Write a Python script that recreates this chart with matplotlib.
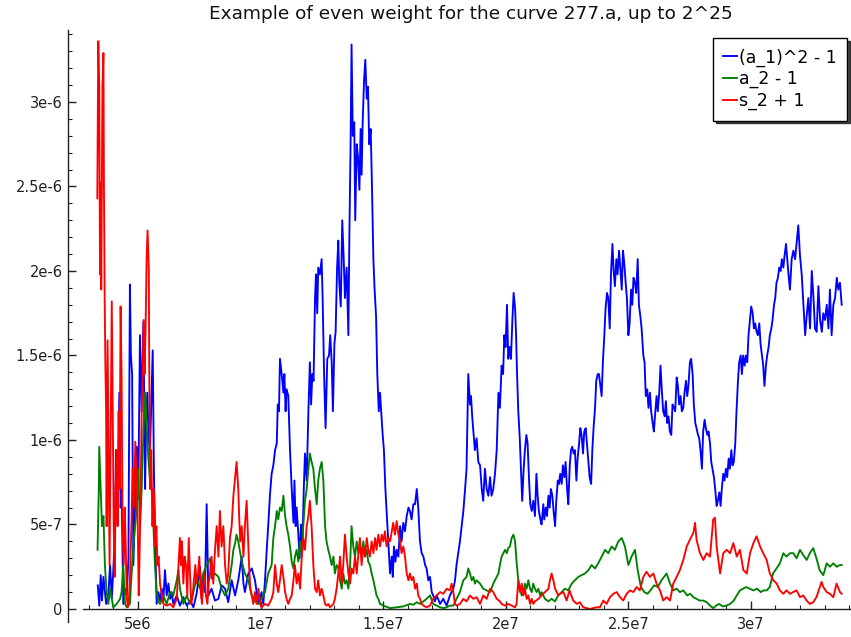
import numpy as np
import matplotlib
matplotlib.use("Agg")
import matplotlib.pyplot as plt
from matplotlib.ticker import FixedLocator, FixedFormatter, MultipleLocator

X_UNIT = 1e6   # x values below are in millions
Y_UNIT = 1e-7  # y values below are in units of 1e-7

title = "Example of even weight for the curve 277.a, up to 2^25"
labels = ["(a_1)^2 - 1", "a_2 - 1", "s_2 + 1"]
colors = ["#0000ff", "#008000", "#ff0000"]
xticks = [5e6, 1e7, 1.5e7, 2e7, 2.5e7, 3e7]
xticklabels = ["5e6", "1e7", "1.5e7", "2e7", "2.5e7", "3e7"]
yticks = [0, 5e-7, 1e-6, 1.5e-6, 2e-6, 2.5e-6, 3e-6]
yticklabels = ["0", "5e-7", "1e-6", "1.5e-6", "2e-6", "2.5e-6", "3e-6"]

blue_x = [
    3.36,3.42,3.48,3.53,3.59,3.70,3.79,3.86,3.93,3.99,
    4.06,4.10,4.16,4.24,4.29,4.33,4.40,4.47,4.54,4.61,
    4.67,4.71,4.76,4.81,4.88,4.95,5.01,5.08,5.15,5.22,
    5.29,5.33,5.38,5.44,5.49,5.54,5.60,5.65,5.69,5.76,
    5.83,5.90,5.97,6.03,6.10,6.17,6.24,6.31,6.37,6.44,
    6.58,6.71,6.85,6.99,7.12,7.26,7.39,7.53,7.60,7.66,
    7.73,7.80,7.87,8.00,8.14,8.28,8.41,8.55,8.68,8.82,
    8.96,9.09,9.23,9.30,9.36,9.50,9.64,9.77,9.91,10.04,
    10.11,10.18,10.25,10.31,10.38,10.45,10.52,10.59,10.66,10.70,
    10.75,10.79,10.86,10.93,10.97,11.02,11.06,11.13,11.20,11.27,
    11.34,11.38,11.43,11.47,11.54,11.59,11.65,11.70,11.76,11.81,
    11.88,11.95,12.01,12.06,12.11,12.16,12.22,12.26,12.31,12.35,
    12.42,12.49,12.53,12.59,12.65,12.72,12.79,12.84,12.90,12.95,
    13.01,13.06,13.12,13.17,13.21,13.27,13.33,13.39,13.44,13.51,
    13.58,13.62,13.67,13.71,13.76,13.82,13.86,13.92,13.97,14.03,
    14.08,14.12,14.16,14.22,14.27,14.33,14.38,14.43,14.49,14.54,
    14.60,14.65,14.71,14.76,14.82,14.87,14.92,14.98,15.03,15.09,
    15.14,15.21,15.28,15.35,15.39,15.44,15.50,15.55,15.62,15.69,
    15.75,15.82,15.89,15.96,16.03,16.09,16.16,16.23,16.30,16.37,
    16.43,16.50,16.57,16.64,16.71,16.77,16.84,16.91,16.98,17.04,
    17.11,17.18,17.32,17.45,17.59,17.72,17.86,17.93,17.99,18.06,
    18.13,18.20,18.27,18.34,18.40,18.47,18.54,18.58,18.64,18.68,
    18.74,18.81,18.88,18.95,19.02,19.08,19.15,19.22,19.29,19.36,
    19.42,19.49,19.56,19.63,19.70,19.76,19.83,19.89,19.94,19.99,
    20.05,20.10,20.16,20.21,20.27,20.32,20.38,20.42,20.46,20.51,
    20.57,20.62,20.67,20.73,20.78,20.84,20.89,20.95,21.00,21.06,
    21.12,21.19,21.25,21.30,21.35,21.41,21.46,21.53,21.57,21.63,
    21.68,21.74,21.79,21.84,21.90,21.95,22.01,22.06,22.12,22.17,
    22.22,22.28,22.33,22.39,22.44,22.50,22.55,22.61,22.66,22.71,
    22.77,22.82,22.88,22.93,22.99,23.04,23.09,23.15,23.20,23.26,
    23.31,23.37,23.42,23.48,23.53,23.58,23.64,23.69,23.75,23.80,
    23.86,23.91,23.96,24.02,24.07,24.13,24.18,24.24,24.29,24.35,
    24.40,24.45,24.51,24.56,24.62,24.67,24.73,24.78,24.83,24.89,
    24.94,25.00,25.05,25.11,25.16,25.21,25.27,25.32,25.38,25.43,
    25.49,25.54,25.61,25.66,25.71,25.77,25.82,25.88,25.93,25.99,
    26.04,26.10,26.15,26.20,26.26,26.31,26.37,26.42,26.48,26.53,
    26.58,26.64,26.69,26.75,26.80,26.86,26.91,26.97,27.02,27.07,
    27.13,27.18,27.24,27.29,27.35,27.40,27.45,27.51,27.56,27.62,
    27.67,27.73,27.78,27.84,27.89,27.94,28.00,28.05,28.11,28.16,
    28.22,28.27,28.33,28.38,28.43,28.49,28.54,28.60,28.65,28.71,
    28.76,28.81,28.87,28.92,28.98,29.03,29.09,29.14,29.20,29.25,
    29.30,29.36,29.41,29.47,29.52,29.58,29.63,29.68,29.74,29.79,
    29.85,29.90,29.96,30.01,30.07,30.12,30.17,30.23,30.28,30.34,
    30.39,30.45,30.50,30.55,30.61,30.66,30.72,30.77,30.83,30.88,
    30.94,30.99,31.04,31.10,31.15,31.21,31.26,31.32,31.37,31.43,
    31.48,31.53,31.59,31.66,31.73,31.80,31.87,31.93,32.00,32.07,
    32.14,32.21,32.27,32.34,32.41,32.48,32.55,32.61,32.68,32.75,
    32.82,32.89,32.95,33.02,33.09,33.16,33.22,33.29,33.36,33.43,
    33.50,33.56,33.63,33.70,
]
blue_y = [
    1.4,0.2,2.0,0.5,1.9,0.3,0.8,2.6,0.6,2.2,
    4.5,9.4,5.0,12.8,6.0,7.1,0.3,1.2,0.8,3.0,
    19.2,15.0,13.9,2.6,6.0,9.6,6.5,16.2,11.7,17.0,
    7.1,11.0,12.8,10.0,9.4,12.0,15.3,8.0,4.9,0.3,
    1.0,0.5,1.2,0.4,2.3,0.8,1.5,0.6,1.0,0.3,
    0.8,0.2,0.7,0.2,0.5,0.1,0.9,2.5,0.6,2.0,
    1.0,6.2,0.8,1.2,0.5,0.6,1.4,1.2,0.4,1.7,
    0.8,1.7,3.1,1.5,1.0,2.1,2.4,1.7,0.3,1.0,
    0.3,1.7,3.5,4.9,6.7,8.0,8.5,9.4,9.8,12.1,
    11.7,14.8,13.9,12.8,13.9,11.7,13.0,12.6,9.4,7.1,
    5.1,7.6,4.9,6.0,4.4,3.0,5.0,3.5,7.0,9.2,
    7.6,11.7,14.6,12.1,13.9,13.5,18.4,19.8,17.5,20.2,
    19.8,20.7,18.4,13.9,10.7,14.8,15.0,16.2,14.6,11.7,
    15.7,16.4,20.2,21.8,19.3,17.9,23.0,20.7,18.4,20.2,
    16.2,22.0,27.5,33.4,28.0,28.8,23.0,27.5,26.8,24.8,
    28.4,25.7,28.6,31.3,32.5,30.2,30.9,27.5,28.4,25.2,
    20.7,18.9,17.3,13.9,11.7,12.8,11.7,10.3,9.4,7.1,
    5.8,4.0,2.1,3.1,1.9,3.7,2.8,3.5,3.1,4.9,
    4.0,5.1,4.6,5.5,6.0,5.8,5.3,6.2,6.2,7.1,
    6.0,4.0,3.3,3.1,2.6,2.4,1.7,1.9,1.0,0.8,
    0.45,0.8,0.3,0.6,0.2,0.8,1.2,1.7,2.6,3.3,
    4.0,4.9,5.8,7.1,8.3,13.9,12.1,12.6,11.2,10.5,
    9.4,10.1,8.7,8.5,7.1,6.4,8.3,7.1,6.7,7.8,
    6.7,7.1,8.0,9.4,12.8,11.9,14.4,13.9,16.2,15.5,
    18.0,14.8,15.5,14.8,17.1,18.7,17.8,16.2,13.9,11.7,
    10.1,8.3,6.4,8.3,9.4,10.3,9.8,7.6,6.2,5.8,
    6.4,5.5,8.0,6.7,5.8,5.3,5.0,6.2,5.3,6.0,
    5.5,6.7,6.0,7.1,6.7,5.8,4.9,6.4,7.6,7.4,
    8.0,7.4,8.5,7.8,8.7,7.1,6.2,8.5,9.4,9.6,
    9.2,9.4,7.6,8.9,9.8,10.7,10.3,9.2,10.5,10.7,
    9.8,8.7,7.8,7.4,9.4,10.7,11.9,13.5,13.9,13.9,
    13.2,12.6,14.6,16.2,17.8,18.7,18.4,16.6,19.8,21.6,
    20.0,19.1,20.7,19.8,21.2,20.2,18.9,21.2,20.5,19.3,
    18.4,16.2,16.9,18.9,18.0,19.6,19.3,18.7,20.7,18.0,
    17.3,16.6,15.0,14.6,12.6,13.0,11.9,12.8,11.7,11.0,
    10.5,11.7,12.6,11.7,12.8,14.4,12.8,11.7,11.4,12.3,
    11.0,11.4,10.5,10.3,12.1,11.9,11.7,13.7,13.2,12.1,
    12.6,11.7,11.9,12.8,13.5,12.6,13.2,14.6,14.8,13.9,
    12.1,11.0,10.7,10.3,10.1,9.4,8.3,10.5,11.2,10.7,
    10.3,10.5,9.8,8.7,8.3,7.8,7.1,6.1,6.4,6.9,
    6.1,7.1,8.0,7.6,8.3,7.8,8.9,8.3,9.4,8.5,
    8.7,9.8,11.7,13.5,14.6,15.0,13.9,15.0,14.4,15.0,
    14.6,16.2,17.1,17.9,17.5,16.6,16.9,16.4,16.2,16.9,
    15.7,15.0,14.4,13.2,14.4,15.0,15.5,16.2,16.6,17.1,
    18.0,18.4,19.3,19.6,20.2,20.0,20.7,20.2,20.9,21.6,
    20.7,19.8,18.9,20.7,21.2,20.7,21.8,22.7,20.9,19.8,
    18.0,16.2,17.3,18.4,16.6,20.0,18.4,16.6,16.4,19.1,
    17.1,16.4,17.5,17.1,18.0,16.6,18.9,16.2,18.0,18.4,
    19.6,18.9,19.3,18.0,
]

green_x = [
    3.35,3.40,3.42,3.48,3.53,3.59,3.65,3.72,3.79,3.86,
    3.93,3.99,4.13,4.27,4.33,4.40,4.47,4.54,4.67,4.74,
    4.81,4.88,4.95,5.01,5.08,5.15,5.22,5.29,5.35,5.42,
    5.49,5.56,5.63,5.69,5.76,5.83,5.90,6.03,6.17,6.31,
    6.44,6.58,6.65,6.71,6.85,6.99,7.12,7.26,7.39,7.53,
    7.66,7.80,7.94,8.00,8.14,8.28,8.41,8.55,8.68,8.82,
    8.89,8.96,9.02,9.09,9.23,9.36,9.50,9.64,9.77,9.91,
    10.04,10.18,10.31,10.45,10.52,10.59,10.66,10.72,10.79,10.86,
    10.93,11.00,11.06,11.13,11.20,11.27,11.34,11.40,11.47,11.54,
    11.61,11.68,11.74,11.81,11.88,11.95,12.01,12.08,12.15,12.22,
    12.29,12.35,12.42,12.49,12.56,12.63,12.69,12.76,12.83,12.90,
    12.97,13.03,13.10,13.17,13.24,13.31,13.37,13.44,13.51,13.58,
    13.65,13.71,13.78,13.85,13.92,13.99,14.05,14.12,14.19,14.26,
    14.33,14.39,14.46,14.53,14.60,14.67,14.73,14.80,14.87,15.01,
    15.28,15.55,15.82,16.09,16.23,16.37,16.50,16.64,16.77,16.91,
    17.04,17.18,17.32,17.45,17.59,17.72,17.86,17.99,18.13,18.27,
    18.40,18.47,18.54,18.61,18.68,18.74,18.81,18.95,19.08,19.22,
    19.36,19.49,19.63,19.70,19.76,19.83,19.90,19.97,20.04,20.10,
    20.17,20.24,20.31,20.38,20.44,20.51,20.58,20.65,20.72,20.78,
    20.85,20.92,20.99,21.06,21.12,21.19,21.26,21.33,21.40,21.46,
    21.53,21.60,21.74,21.87,22.01,22.14,22.28,22.41,22.55,22.69,
    22.82,22.96,23.09,23.23,23.37,23.50,23.64,23.77,23.91,24.05,
    24.18,24.32,24.45,24.59,24.73,24.86,25.00,25.13,25.27,25.38,
    25.51,25.65,25.78,25.90,26.05,26.20,26.35,26.56,26.70,26.83,
    26.97,27.10,27.24,27.40,27.52,27.65,27.78,27.90,28.05,28.20,
    28.33,28.46,28.58,28.70,28.85,29.00,29.15,29.30,29.42,29.55,
    29.68,29.80,29.95,30.10,30.25,30.40,30.52,30.64,30.77,30.90,
    31.04,31.18,31.32,31.45,31.59,31.73,31.86,32.00,32.13,32.27,
    32.40,32.54,32.67,32.80,32.95,33.09,33.22,33.36,33.49,33.63,
    33.70,
]
green_y = [
    3.5,7.0,9.6,7.1,4.9,5.5,2.6,1.0,0.3,1.2,
    0.6,0.1,0.3,0.6,1.0,2.6,0.3,0.1,0.3,2.1,
    3.7,4.9,6.0,8.3,4.9,7.1,10.5,12.8,11.0,9.0,
    7.5,7.1,4.9,2.6,1.0,0.45,0.3,0.8,0.3,1.0,
    0.8,1.7,2.3,1.2,0.3,0.8,0.3,1.0,1.9,1.2,
    2.1,2.6,3.0,1.8,2.1,1.9,1.2,0.8,1.2,2.6,
    3.5,3.9,4.4,4.0,2.8,2.1,1.7,0.8,0.45,0.3,
    0.6,1.0,2.1,2.6,4.2,4.9,5.8,5.3,6.0,5.8,
    6.7,5.5,4.9,4.4,3.7,2.8,2.4,3.1,3.5,2.8,
    4.0,3.1,4.9,6.4,7.1,8.3,9.2,8.7,8.3,7.1,
    6.2,7.6,8.3,8.7,7.6,4.9,4.0,3.5,3.1,2.6,
    3.1,2.1,2.6,2.4,1.7,1.2,2.1,1.5,1.7,1.2,
    2.6,4.9,3.7,3.1,4.0,3.3,3.7,3.3,4.0,3.1,
    3.5,2.8,2.6,2.1,1.7,1.2,0.8,0.6,0.3,0.2,
    0.05,0.1,0.15,0.3,0.25,0.4,0.3,0.45,0.6,0.8,
    0.3,0.2,0.1,0.05,0.1,0.2,0.2,0.6,1.0,1.7,
    1.9,2.4,2.1,1.7,1.9,1.5,1.7,1.5,1.2,1.1,
    1.0,1.5,1.9,2.1,2.6,3.1,3.3,3.5,3.3,3.6,
    3.7,4.2,4.4,4.0,2.8,1.7,1.2,0.8,1.0,1.5,
    1.2,1.7,1.2,1.0,1.5,1.2,1.0,1.2,0.8,1.0,
    0.8,0.6,0.45,0.6,0.45,0.8,1.0,1.2,1.1,1.5,
    1.7,1.9,2.0,2.1,2.3,2.6,2.4,2.7,3.1,3.5,
    3.3,3.7,3.5,4.0,4.2,3.7,2.6,3.1,3.5,2.3,
    1.3,1.0,0.9,1.1,1.4,1.3,1.7,2.1,1.5,1.1,
    1.2,1.0,1.1,0.8,0.9,0.7,0.6,0.5,0.5,0.4,
    0.2,0.05,0.2,0.3,0.15,0.2,0.3,0.5,0.8,1.1,
    1.2,1.3,1.2,1.1,1.2,1.0,1.1,1.1,1.3,2.1,
    2.4,2.7,3.3,3.1,3.3,3.3,3.0,3.5,3.2,2.9,
    3.3,3.6,3.0,2.3,2.0,2.7,2.5,2.7,2.5,2.6,
    2.6,
]

red_x = [
    3.34,3.38,3.42,3.45,3.48,3.50,3.55,3.59,3.61,3.64,
    3.67,3.70,3.72,3.76,3.80,3.84,3.89,3.93,3.97,4.01,
    4.05,4.09,4.13,4.17,4.21,4.25,4.29,4.33,4.37,4.42,
    4.46,4.50,4.54,4.58,4.62,4.67,4.73,4.78,4.84,4.89,
    4.95,4.99,5.03,5.07,5.11,5.15,5.19,5.23,5.27,5.31,
    5.35,5.39,5.44,5.46,5.50,5.54,5.59,5.63,5.67,5.71,
    5.75,5.79,5.84,5.90,5.97,6.03,6.17,6.31,6.44,6.58,
    6.71,6.75,6.79,6.85,6.90,6.96,7.01,7.07,7.12,7.17,
    7.23,7.28,7.34,7.39,7.45,7.50,7.56,7.61,7.66,7.72,
    7.77,7.83,7.88,7.94,8.00,8.07,8.14,8.21,8.28,8.34,
    8.41,8.48,8.55,8.62,8.68,8.75,8.82,8.89,8.96,9.02,
    9.09,9.13,9.17,9.23,9.30,9.36,9.43,9.47,9.53,9.58,
    9.64,9.70,9.77,9.84,9.91,9.98,10.04,10.18,10.31,10.45,
    10.52,10.59,10.66,10.72,10.79,10.86,10.93,11.00,11.06,11.13,
    11.20,11.27,11.34,11.40,11.47,11.54,11.61,11.68,11.74,11.81,
    11.88,11.95,12.01,12.08,12.15,12.22,12.29,12.35,12.42,12.49,
    12.56,12.63,12.69,12.76,12.83,12.90,12.97,13.03,13.10,13.17,
    13.24,13.31,13.37,13.44,13.51,13.58,13.65,13.71,13.78,13.85,
    13.92,13.99,14.05,14.12,14.19,14.26,14.33,14.39,14.46,14.53,
    14.60,14.67,14.73,14.80,14.87,14.94,15.01,15.07,15.14,15.21,
    15.28,15.35,15.41,15.48,15.55,15.62,15.69,15.75,15.82,15.89,
    15.96,16.03,16.09,16.16,16.23,16.30,16.37,16.43,16.50,16.57,
    16.64,16.77,16.91,17.04,17.18,17.32,17.45,17.59,17.72,17.79,
    17.86,17.93,17.99,18.13,18.27,18.40,18.54,18.68,18.81,18.95,
    19.08,19.22,19.36,19.49,19.63,19.76,19.83,19.97,20.10,20.24,
    20.38,20.44,20.51,20.58,20.65,20.72,20.78,20.85,20.92,20.99,
    21.06,21.12,21.19,21.33,21.46,21.60,21.74,21.80,21.87,21.94,
    22.01,22.08,22.14,22.21,22.35,22.48,22.60,22.75,22.90,23.02,
    23.16,23.30,23.43,23.57,23.70,23.84,23.98,24.11,24.25,24.39,
    24.52,24.66,24.79,24.93,25.07,25.20,25.34,25.47,25.61,25.74,
    25.88,26.02,26.15,26.29,26.42,26.56,26.70,26.83,26.97,27.10,
    27.24,27.38,27.51,27.65,27.72,27.78,27.92,28.06,28.19,28.33,
    28.46,28.53,28.60,28.74,28.87,29.01,29.15,29.28,29.42,29.55,
    29.69,29.83,29.96,30.10,30.23,30.37,30.50,30.64,30.77,30.91,
    31.05,31.18,31.32,31.45,31.59,31.72,31.86,32.00,32.13,32.27,
    32.40,32.54,32.67,32.81,32.88,32.95,33.09,33.22,33.36,33.49,
    33.63,33.70,
]
red_y = [
    24.3,33.6,30.9,19.8,25.2,18.9,30.9,32.9,25.2,18.4,
    14.4,11.7,4.9,15.9,9.4,2.6,11.7,18.2,11.7,4.9,
    1.9,7.1,9.4,4.9,11.7,7.1,17.9,13.9,4.9,2.6,
    6.0,3.7,0.8,0.1,0.3,1.7,4.9,8.3,6.0,9.9,
    7.1,4.9,0.8,3.7,7.1,11.7,13.9,17.1,13.9,16.6,
    20.7,22.4,20.2,13.9,7.1,9.4,4.9,7.1,6.0,3.7,
    4.9,2.6,3.1,1.5,0.8,0.3,0.2,0.3,0.1,0.6,
    4.2,2.6,4.0,1.5,3.1,2.6,0.8,4.2,2.1,0.3,
    0.8,1.7,2.6,1.5,2.1,3.1,1.0,0.3,1.5,2.1,
    0.8,0.3,1.5,2.1,3.1,1.5,3.5,4.9,3.1,5.8,
    3.7,4.9,2.6,1.5,2.1,4.2,4.9,6.7,7.8,8.7,
    7.1,5.3,4.0,4.9,3.1,4.9,6.4,4.9,2.6,1.2,
    0.8,0.3,1.0,0.3,1.2,0.3,0.1,0.3,0.2,0.6,
    1.0,2.6,1.5,1.0,1.7,2.6,1.9,1.0,0.6,0.3,
    0.6,0.8,1.7,2.6,1.5,2.1,1.2,3.1,4.2,3.5,
    4.9,5.5,6.4,4.9,2.6,1.2,1.0,1.7,0.8,1.2,
    0.8,0.3,0.2,0.3,0.1,0.2,0.3,0.6,1.2,2.1,
    3.1,1.5,2.6,4.4,3.1,2.1,1.5,2.4,2.1,3.1,
    2.1,3.3,4.2,2.6,3.7,3.1,4.2,3.5,3.1,4.0,
    3.3,4.2,3.5,4.4,3.7,4.4,4.0,4.6,3.7,4.2,
    4.0,4.6,5.1,4.4,5.2,4.4,4.0,3.3,3.7,3.1,
    2.1,1.7,2.1,1.7,1.9,1.2,1.5,0.8,0.6,0.3,
    0.2,0.1,0.2,0.6,0.8,1.0,0.9,1.2,1.1,1.5,
    1.0,0.3,0.2,0.3,0.6,0.45,0.8,0.6,0.7,0.3,
    0.8,0.6,1.2,1.0,0.6,0.45,0.3,0.2,0.3,0.2,
    0.1,0.3,1.7,1.0,1.5,0.8,1.2,0.6,0.8,0.3,
    0.6,0.3,0.45,0.6,0.8,1.0,1.2,1.7,2.1,1.7,
    1.2,1.0,0.8,0.9,1.0,0.5,1.1,0.5,0.3,0.4,
    0.1,0.05,0.0,0.05,0.1,0.1,0.5,0.3,0.7,0.9,
    1.0,0.7,0.5,0.9,1.1,1.0,1.3,1.1,1.9,2.2,
    1.9,2.1,1.5,1.1,0.5,0.7,0.5,1.5,1.9,2.3,
    2.9,3.7,4.1,4.5,5.1,4.1,3.3,2.9,3.3,3.1,
    5.3,5.4,3.7,2.1,3.3,3.5,3.3,3.9,3.1,3.5,
    2.3,2.1,3.3,3.9,4.3,3.7,3.3,2.9,2.1,1.7,
    1.5,1.1,0.9,1.1,0.9,1.0,1.1,0.7,0.8,0.5,
    0.3,0.4,0.7,1.3,1.6,1.3,1.0,0.9,0.7,1.5,
    1.0,0.9,
]

W, H = 851, 637
fig = plt.figure(figsize=(W / 100, H / 100), dpi=100)
ax = fig.add_axes([68 / W, 15 / H, (W - 68) / W, 592 / H])

series = [(blue_x, blue_y), (green_x, green_y), (red_x, red_y)]
for (xs, ys), c, lab in zip(series, colors, labels):
    ax.plot(np.asarray(xs) * X_UNIT, np.asarray(ys) * Y_UNIT, color=c, lw=1.35, label=lab)

ax.set_xlim(2.145e6, 34.08e6)
ax.set_ylim(-0.77e-7, 34.26e-7)

ax.spines['top'].set_visible(False)
ax.spines['right'].set_visible(False)
ax.spines['bottom'].set_position(('data', 0))
ax.spines['bottom'].set_bounds(2.757e6, 34.08e6)
for s in ('left', 'bottom'):
    ax.spines[s].set_linewidth(1.0)
    ax.spines[s].set_color('#222222')

ax.xaxis.set_major_locator(FixedLocator(xticks))
ax.xaxis.set_major_formatter(FixedFormatter(xticklabels))
ax.xaxis.set_minor_locator(MultipleLocator(1e6))
ax.yaxis.set_major_locator(FixedLocator(yticks))
ax.yaxis.set_major_formatter(FixedFormatter(yticklabels))
ax.yaxis.set_minor_locator(MultipleLocator(1e-7))

ax.tick_params(which='both', direction='in', colors='#222222', labelcolor='#222222')
ax.tick_params(which='major', length=6, width=1.0, labelsize=10.5)
ax.tick_params(which='minor', length=3, width=0.8)
ax.tick_params(axis='x', which='major', pad=6)
ax.tick_params(axis='y', which='major', pad=4)

fig.text(471 / W, 1 - 14 / H, title, ha='center', va='center', fontsize=13.3, color='#111111')

leg = ax.legend(loc='upper right', bbox_to_anchor=(847 / W, 1 - 38 / H),
                bbox_transform=fig.transFigure, fontsize=12.5, handlelength=0.8,
                handletextpad=0.1, borderpad=0.6, labelspacing=0.2, borderaxespad=0,
                frameon=True, fancybox=False, shadow={'color': 'black', 'alpha': 0.7},
                edgecolor='black')
leg.get_frame().set_linewidth(1.0)
leg.get_frame().set_alpha(1)

fig.savefig("out.png", dpi=100)
